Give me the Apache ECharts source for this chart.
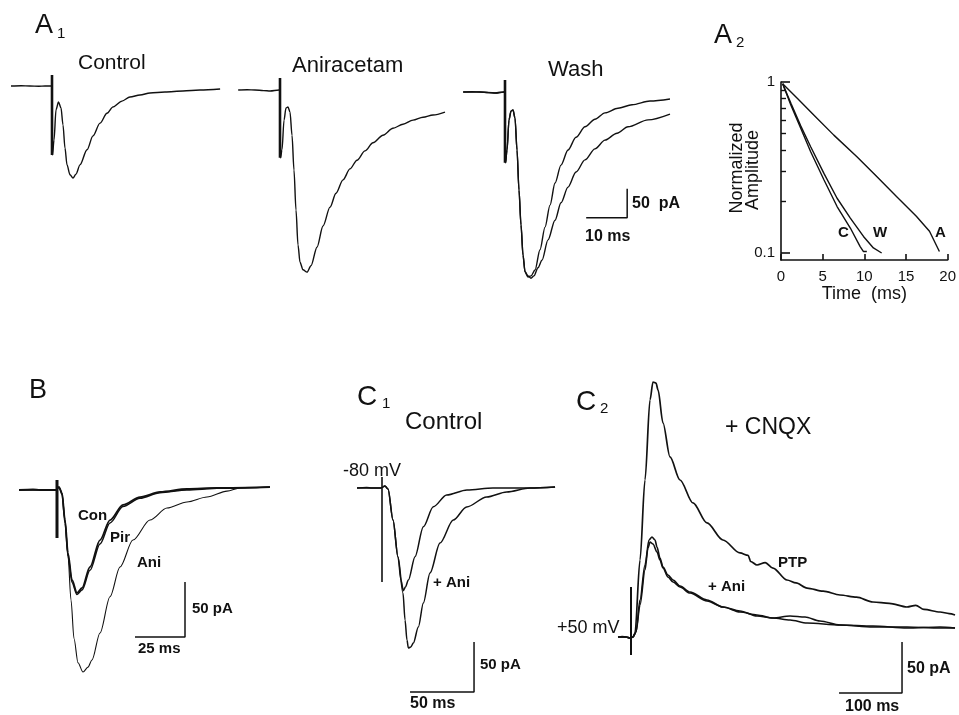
<!DOCTYPE html>
<html><head><meta charset="utf-8">
<script src="https://cdn.jsdelivr.net/npm/echarts@6/dist/echarts.min.js"></script>
<style>html,body{margin:0;padding:0;background:#fff}#c{width:959px;height:715px}</style>
</head><body><div id="c"></div>
<script>
// ===== DATA (time in ms, current in pA relative to baseline) =====
// Panel A1
const a1Control = [[-10,0],[-7.5,0.5],[-5.4,0],[-3.2,-0.5],[-1.7,0],[-0.24,0],[0,0],[0.12,-119],[0.49,-93],[0.98,-41],[1.59,-27.6],[2.2,-38],[2.68,-67],[3.17,-107],[3.66,-136],[4.39,-153],[5.12,-158.6],[5.85,-152],[6.83,-136],[8.54,-110],[10.0,-86],[11.71,-64],[13.41,-47],[14.88,-36],[17.07,-26],[19.02,-19],[21.46,-15.5],[23.9,-12],[27.56,-10.3],[31.95,-8.6],[36.1,-6.9],[41.0,-5.2]];
const a1Aniracetam = [[-10.2,0],[-8,0.5],[-6.1,0],[-4,-1],[-2.4,-1.7],[-0.24,0],[0,0],[0.12,-117],[0.49,-103],[0.98,-52],[1.46,-31],[1.95,-29.3],[2.44,-38],[2.93,-78],[3.41,-138],[3.9,-207],[4.39,-267],[4.88,-297],[5.61,-310],[6.59,-314],[7.56,-303],[9.02,-271],[10.49,-234.5],[12.2,-202],[13.66,-178],[15.37,-155],[17.07,-136],[18.78,-121],[20.73,-105],[22.68,-91],[25.12,-78],[27.56,-66],[30.0,-59],[32.44,-52],[34.88,-47],[37.32,-43],[40.24,-38]];
const a1WashFast = [[-10.2,0],[-8,0.5],[-6.1,0],[-4,-1],[-2.4,-1.7],[-0.24,0],[0,0],[0.12,-122],[0.49,-100],[0.98,-48],[1.46,-33],[1.95,-31],[2.44,-45],[2.93,-100],[3.41,-169],[3.9,-229],[4.39,-281],[4.88,-310],[5.61,-319],[6.34,-317],[7.32,-307],[8.54,-272],[9.76,-233],[10.98,-195],[12.2,-157],[13.66,-126],[15.37,-100],[17.32,-78],[19.51,-60],[21.95,-47],[24.39,-36],[27.56,-28],[30.98,-22],[35.37,-15.5],[40.24,-12]];
const a1WashSlow = [[-10.2,0],[-6.1,0],[-2.4,-1.7],[-0.24,0],[0,0],[0.12,-122],[0.49,-100],[0.98,-48],[1.46,-33],[1.95,-31],[2.44,-45],[2.93,-100],[3.41,-169],[3.9,-229],[4.39,-281],[4.88,-310],[5.61,-317],[6.34,-321],[7.07,-317],[8.05,-303],[9.02,-290],[10.49,-255],[12.2,-221],[13.66,-191],[15.37,-164],[17.32,-138],[19.51,-117],[21.95,-98],[24.39,-83],[27.32,-71],[30.0,-60],[34.88,-48],[40.24,-38]];
const a1Artifacts = [[19,-119],[20.7,-117],[20.7,-122]]; // [top, bottom] pA for Control, Aniracetam, Wash

// Panel A2 (time ms, normalized amplitude)
const a2C = [[0.2,0.978],[1.19,0.731],[2.38,0.535],[3.56,0.391],[5.15,0.268],[6.73,0.187],[8.32,0.140],[9.5,0.109],[9.9,0.102],[10.3,0.102]];
const a2W = [[0.2,0.978],[1.19,0.75],[2.38,0.552],[3.56,0.418],[5.15,0.292],[6.73,0.209],[8.32,0.16],[9.9,0.125],[11.09,0.107],[12.08,0.1]];
const a2A = [[0.2,0.978],[1.98,0.80],[3.96,0.64],[6.34,0.489],[9.11,0.366],[11.49,0.28],[13.86,0.214],[16.24,0.164],[17.82,0.134],[19.01,0.102]];
const a2XTicks = [0,5,10,15,20];
const a2YLabels = [0.1,1];
const a2MinorTicks = [0.2,0.3,0.4,0.5,0.6,0.7,0.8,0.9];

// Panel B
const bCon = [[-19,0],[-12,0.5],[-8.5,0],[-4,0],[-0.5,0],[1.0,2.7],[2.5,-2.7],[4.0,-27.3],[5.5,-57.3],[7.5,-81.8],[10.0,-93.6],[12.5,-89.1],[16.5,-70],[21.5,-45.5],[26.5,-27.3],[33,-13.6],[41.5,-6.4],[51.5,-1.8],[65,0.9],[80,1.8],[95,2.2],[106.5,2.7]];
const bPir = [[-19,0],[-8.5,0],[-0.5,0],[1.0,2.7],[2.5,-4],[4.0,-30],[5.5,-60],[7.5,-84],[10.0,-95],[12.5,-91],[16.5,-73],[21.5,-49],[26.5,-30],[33,-15],[41.5,-7.5],[51.5,-2.5],[65,0],[80,1.5],[106.5,2.7]];
const bAni = [[-19,0],[-8.5,0],[-0.5,0],[1.0,2.7],[2.5,-3],[4.0,-27],[5.5,-60],[7.0,-100],[8.5,-135],[10.5,-157],[13,-165.5],[15.5,-161],[17.5,-154.5],[21.5,-130],[26.5,-97],[31.5,-70],[38,-45.5],[46.5,-27.3],[55,-16.4],[65,-10.9],[75,-6.4],[85,-1],[91.5,1.8],[106.5,2.7]];
const bArtifact = [9,-43.6];

// Panel C1
const c1Control = [[-19.5,0],[-12,0.5],[-7.8,0],[-0.8,0],[2.3,2],[4.7,-1],[8.6,-32],[12.5,-69],[14.8,-92],[16.7,-102.7],[18.3,-99],[20.6,-92],[25.8,-68.7],[32.3,-38.7],[40.1,-18.7],[50.5,-7],[66.4,-2],[86.7,0],[115.6,0],[135.2,1]];
const c1Ani = [[-19.5,0],[-7.8,0],[-0.8,0],[2.3,2],[4.7,-1],[8.6,-32],[12.5,-69],[16.4,-105],[18.0,-132],[19.5,-152],[20.6,-160],[22.5,-159],[24.5,-155],[28.4,-139],[32.3,-115],[37.5,-85],[45.3,-55],[55.7,-32],[66.1,-19],[81.8,-9],[97.4,-4],[115.6,0],[135.2,1]];
const c1Artifact = [11,-94];

// Panel C2
const c2PTP = [[-20.6,0],[-14,0.5],[-7.9,0],[-1.6,-1],[3.2,0],[6.3,3.9],[14.3,75.5],[22.2,153.9],[30.2,232.4],[34.9,250],[39.7,249],[42.9,242.2],[50.8,209.8],[61.9,176.5],[77.8,153.9],[98.4,131.4],[120.6,111.8],[146,95.1],[173,82.4],[186,80],[190,74],[200,70.6],[213,73],[225.4,67.6],[247.6,55.9],[262,53],[279.4,48],[305,45],[331.7,41.2],[358,39],[384.1,34.3],[410,33],[438.1,29.4],[452,31],[465,27],[490.5,24.5],[505,23],[514.3,21.6]];
const c2Ani1 = [[-20.6,0],[-7.9,0],[-1.6,-1],[3.2,0],[7.9,4.9],[14.3,36.3],[22.2,70.6],[28.6,95.1],[33.3,98],[38.1,95.1],[41.3,88.2],[46,77.5],[50.8,68.6],[58.7,60.8],[66.7,55.9],[77.8,50],[93.7,44.1],[120.6,36.3],[146,29.4],[173,24.5],[200,21.6],[225.4,18.6],[252.4,16.7],[279.4,13.7],[331.7,11.8],[384.1,9.8],[438.1,9.8],[490.5,8.8],[514.3,8.8]];
const c2Ani2 = [[-20.6,0],[-7.9,0],[-1.6,-1],[3.2,0],[7.9,4.9],[14.3,31.4],[22.2,65.7],[27,87.3],[30.2,93.1],[34.9,91.2],[41.3,83.3],[46,75.5],[50.8,67.6],[58.7,58.8],[66.7,53.9],[77.8,49],[93.7,43.1],[120.6,35.3],[146,29.4],[173,25.5],[200,20.6],[225.4,18.6],[252.4,20.6],[276.2,19.6],[300,15.7],[331.7,11.8],[384.1,10.8],[438.1,8.8],[490.5,9.8],[514.3,8.8]];
const c2Artifact = [49,-17.6];

// Scale bars [ms, pA]
const barA1 = [10,50];
const barB = [25,50];
const barC1 = [50,50];
const barC2 = [100,50];

// ===== LAYOUT =====
const FONT = "'Liberation Sans', Arial, Helvetica, sans-serif";
const INK = '#111';
// x0/y0: pixel of (t=0, I=0); sx px/ms; sy px/pA
const panels = [
  {x0:52,  y0:86,  sx:4.1,  sy:0.58, xr:[-11,42],  yr:[-170,25]},
  {x0:280, y0:90,  sx:4.1,  sy:0.58, xr:[-11,42],  yr:[-330,25]},
  {x0:505, y0:92,  sx:4.1,  sy:0.58, xr:[-11,42],  yr:[-330,25]},
  {x0:57,  y0:490, sx:2,    sy:1.1,  xr:[-20,110], yr:[-170,15]},
  {x0:382, y0:488, sx:1.28, sy:1,    xr:[-20,140], yr:[-215,15]},
  {x0:631, y0:637, sx:0.63, sy:1.02, xr:[-25,520], yr:[-60,260]}
];
const grids = [], xAxes = [], yAxes = [];
panels.forEach((p,i)=>{
  grids.push({left:p.x0+p.xr[0]*p.sx, width:(p.xr[1]-p.xr[0])*p.sx, top:p.y0-p.yr[1]*p.sy, height:(p.yr[1]-p.yr[0])*p.sy});
  xAxes.push({type:'value', gridIndex:i, min:p.xr[0], max:p.xr[1], show:false});
  yAxes.push({type:'value', gridIndex:i, min:p.yr[0], max:p.yr[1], show:false});
});
// A2 grid
grids.push({left:781, top:82, width:168, height:178});
xAxes.push({type:'value', gridIndex:6, min:0, max:20, interval:5,
  axisLine:{lineStyle:{color:INK,width:1.6}},
  axisTick:{inside:true,length:6,lineStyle:{color:INK,width:1.6}, customValues:a2XTicks},
  axisLabel:{color:INK,fontSize:15,fontFamily:FONT,margin:9, customValues:a2XTicks},
  splitLine:{show:false},
  name:'Time  (ms)', nameLocation:'middle', nameGap:21,
  nameTextStyle:{color:INK,fontSize:18,fontFamily:FONT}});
yAxes.push({type:'log', gridIndex:6, position:'left', min:0.091, max:1, logBase:10,
  axisLine:{show:true,lineStyle:{color:INK,width:1.6}},
  axisTick:{show:true,inside:true,length:9,lineStyle:{color:INK,width:1.6}, customValues:a2YLabels},
  axisLabel:{color:INK,fontSize:15,fontFamily:FONT,margin:6, customValues:a2YLabels,
    formatter:v=>String(+(+v).toPrecision(3))},
  splitLine:{show:false}});
yAxes.push({type:'log', gridIndex:6, position:'left', offset:0, min:0.091, max:1, logBase:10,
  axisLine:{show:false},
  axisTick:{show:true,inside:true,length:5,lineStyle:{color:INK,width:1.4}, customValues:a2MinorTicks},
  axisLabel:{show:false}, splitLine:{show:false}});

const series = [];
function trace(gi, data, w, yIdx){
  series.push({type:'line', xAxisIndex:gi, yAxisIndex:(yIdx===undefined?gi:yIdx), data, symbol:'none', smooth:0.3, smoothMonotone:'x',
    lineStyle:{color:INK,width:w}, silent:true, animation:false, clip:false});
}
function seg(gi, data, w){
  series.push({type:'line', xAxisIndex:gi, yAxisIndex:gi, data, symbol:'none', smooth:false,
    lineStyle:{color:INK,width:w}, silent:true, animation:false, clip:false});
}
function artifact(gi, top, bottom, w){ seg(gi, [[0,top],[0,bottom]], w); }
function bar(gi, corner, b, w){ seg(gi, [[corner[0]-b[0],corner[1]],[corner[0],corner[1]],[corner[0],corner[1]+b[1]]], w); }

trace(0, a1Control, 1.4); artifact(0, a1Artifacts[0][0], a1Artifacts[0][1], 2.6);
trace(1, a1Aniracetam, 1.4); artifact(1, a1Artifacts[1][0], a1Artifacts[1][1], 2.6);
trace(2, a1WashFast, 1.4); trace(2, a1WashSlow, 1.4); artifact(2, a1Artifacts[2][0], a1Artifacts[2][1], 2.6);
bar(2, [29.8,-217], barA1, 1.5);

trace(3, bAni, 1.1); trace(3, bPir, 1.5); trace(3, bCon, 1.8); artifact(3, bArtifact[0], bArtifact[1], 3);
bar(3, [64,-133.6], barB, 1.5);

trace(4, c1Control, 1.5); trace(4, c1Ani, 1.5); artifact(4, c1Artifact[0], c1Artifact[1], 1.6);
bar(4, [71.9,-204], barC1, 1.5);

trace(5, c2PTP, 1.7); trace(5, c2Ani1, 1.6); trace(5, c2Ani2, 1.6); artifact(5, c2Artifact[0], c2Artifact[1], 2);
bar(5, [430.2,-54.9], barC2, 1.5);

[a2C, a2W, a2A].forEach(d=>{
  series.push({type:'line', xAxisIndex:6, yAxisIndex:6, data:d, symbol:'none', smooth:false,
    lineStyle:{color:INK,width:1.4}, silent:true, animation:false});
});

// ===== TEXT =====
function T(text, x, y, size, bold, extra){
  return Object.assign({type:'text', x, y, silent:true, style:{text, fill:INK, fontSize:size, fontFamily:FONT,
    fontWeight:bold?'bold':'normal', align:'left', verticalAlign:'middle'}}, extra||{});
}
const graphic = [
  T('A',35,26,27), T('1',57,34,15),
  T('A',714,36,27), T('2',736,43,15),
  T('B',29,391,27),
  T('C',357,397,28), T('1',382,404,15),
  T('C',576,402,28), T('2',600,409,15),
  T('Control',78,63,21), T('Aniracetam',292,66,22), T('Wash',548,70,22),
  T('Control',405,422,24), T('+ CNQX',725,428,23),
  T('50  pA',632,204,16,true), T('10 ms',585,237,16,true),
  T('C',838,233,15,true), T('W',873,233,15,true), T('A',935,233,15,true),
  T('Con',78,516,15,true), T('Pir',110,538,15,true), T('Ani',137,563,15,true),
  T('50 pA',192,609,15,true), T('25 ms',138,649,15,true),
  T('-80 mV',343,471,18), T('+ Ani',433,583,15,true), T('50 pA',480,665,15,true), T('50 ms',410,704,16,true),
  T('+50 mV',557,628,18), T('PTP',778,563,15,true), T('+ Ani',708,587,15,true),
  T('50 pA',907,669,16,true), T('100 ms',845,707,16,true),
  T('Normalized',737,168,18,false,{rotation:Math.PI/2}),
  T('Amplitude',753,170,18,false,{rotation:Math.PI/2})
];
graphic.forEach(g=>{ if(g.rotation){ g.style.align='center'; } });

const chart = echarts.init(document.getElementById('c'), null, {renderer:'canvas'});
chart.setOption({backgroundColor:'#fff', animation:false, grid:grids, xAxis:xAxes, yAxis:yAxes, series, graphic});
</script>
</body></html>
